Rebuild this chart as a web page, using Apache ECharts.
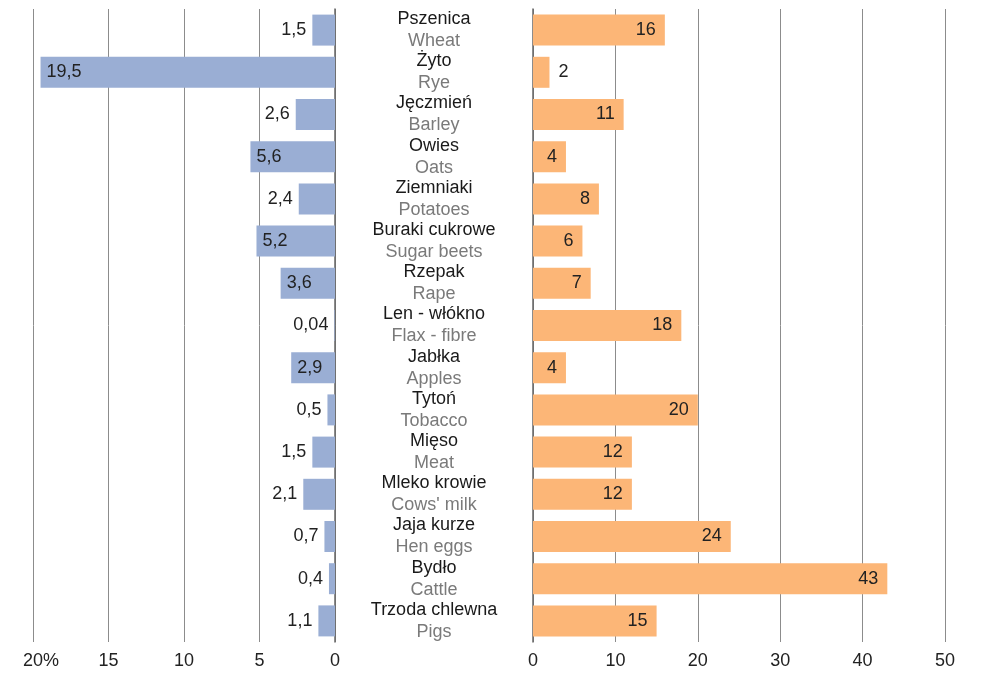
<!DOCTYPE html>
<html>
<head>
<meta charset="utf-8">
<script src="https://cdn.jsdelivr.net/npm/echarts@6/dist/echarts.min.js"></script>
<style>
  html, body { margin: 0; padding: 0; background: #fff; }
  #main { width: 987px; height: 674px; }
</style>
</head>
<body>
<div id="main"></div>
<script>
var plNames = ['Pszenica', 'Żyto', 'Jęczmień', 'Owies', 'Ziemniaki', 'Buraki cukrowe', 'Rzepak', 'Len - włókno', 'Jabłka', 'Tytoń', 'Mięso', 'Mleko krowie', 'Jaja kurze', 'Bydło', 'Trzoda chlewna'];
var enNames = ['Wheat', 'Rye', 'Barley', 'Oats', 'Potatoes', 'Sugar beets', 'Rape', 'Flax - fibre', 'Apples', 'Tobacco', 'Meat', "Cows' milk", 'Hen eggs', 'Cattle', 'Pigs'];
var shares = [1.5, 19.5, 2.6, 5.6, 2.4, 5.2, 3.6, 0.04, 2.9, 0.5, 1.5, 2.1, 0.7, 0.4, 1.1];
var ranks = [16, 2, 11, 4, 8, 6, 7, 18, 4, 20, 12, 12, 24, 43, 15];
var leftTicks = ['0', '5', '10', '15', '20%'];

var FONT = '"Liberation Sans", Arial, sans-serif';
var FS = 18;
var gridLine = { show: true, lineStyle: { color: '#8c8c8c', width: 1 } };

function comma(v) { return String(v).replace('.', ','); }

var chart = echarts.init(document.getElementById('main'));

// wide bars carry their label inside, short ones outside
var leftData = shares.map(function (v) {
  var inside = v >= 2.8;
  return {
    value: v,
    label: { position: inside ? 'insideLeft' : 'left', distance: 6 }
  };
});

var rightData = ranks.map(function (v) {
  var inside = v >= 4;
  return {
    value: v,
    label: { position: inside ? 'insideRight' : 'right', distance: 9 }
  };
});

var catIdx = plNames.map(function (p, i) { return i; });

chart.setOption({
  animation: false,
  textStyle: { fontFamily: FONT },
  grid: [
    { left: 33, width: 302, top: 9, bottom: 32 },
    { left: 533, width: 412, top: 9, bottom: 32 }
  ],
  xAxis: [
    {
      gridIndex: 0, type: 'value', inverse: true, min: 0, max: 20, interval: 5,
      axisLine: { show: false }, axisTick: { show: false },
      splitLine: gridLine,
      axisLabel: {
        color: '#222', fontSize: FS, fontFamily: FONT, margin: 10,
        formatter: function (v) {
          var t = leftTicks[v / 5];
          // keep the number centred on its line, the % hangs to the right
          return t.indexOf('%') >= 0 ? '{pad|}' + t : t;
        },
        rich: { pad: { width: 16 } }
      }
    },
    {
      gridIndex: 1, type: 'value', min: 0, max: 50, interval: 10,
      axisLine: { show: false }, axisTick: { show: false },
      splitLine: gridLine,
      axisLabel: { color: '#222', fontSize: FS, fontFamily: FONT, margin: 10 }
    }
  ],
  yAxis: [
    {
      gridIndex: 0, type: 'category', inverse: true, position: 'right',
      data: catIdx,
      axisLine: { show: true, lineStyle: { color: '#666', width: 1.5 } },
      axisTick: { show: false },
      axisLabel: {
        align: 'center', margin: 99, fontFamily: FONT,
        formatter: function (i) { return '{pl|' + plNames[i] + '}\n{en|' + enNames[i] + '}'; },
        rich: {
          pl: { color: '#1a1a1a', fontSize: FS, lineHeight: 22, fontFamily: FONT },
          en: { color: '#7a7a7a', fontSize: FS, lineHeight: 22, fontFamily: FONT }
        }
      }
    },
    {
      gridIndex: 1, type: 'category', inverse: true,
      data: catIdx,
      axisLine: { show: true, lineStyle: { color: '#666', width: 1.5 } },
      axisTick: { show: false },
      axisLabel: { show: false }
    }
  ],
  series: [
    {
      type: 'bar', xAxisIndex: 0, yAxisIndex: 0,
      data: leftData, barWidth: 31,
      itemStyle: { color: '#9aaed4' },
      label: {
        show: true, color: '#222', fontSize: FS, fontFamily: FONT,
        formatter: function (p) { return comma(p.value); }
      }
    },
    {
      type: 'bar', xAxisIndex: 1, yAxisIndex: 1,
      data: rightData, barWidth: 31,
      itemStyle: { color: '#fcb677' },
      label: {
        show: true, color: '#222', fontSize: FS, fontFamily: FONT,
        formatter: function (p) { return comma(p.value); }
      }
    }
  ]
});
</script>
</body>
</html>
